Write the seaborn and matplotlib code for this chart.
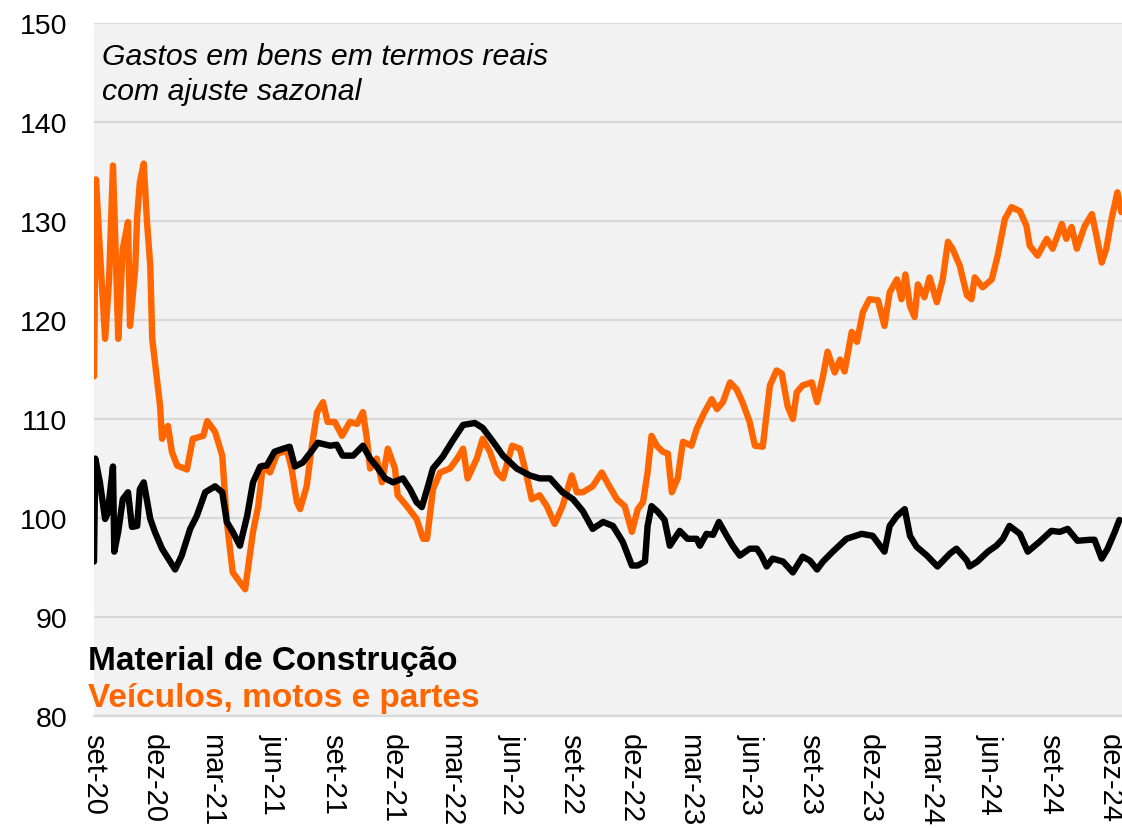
import matplotlib
matplotlib.use("Agg")
import matplotlib.pyplot as plt
import matplotlib.ticker as mticker
import pandas as pd
import seaborn as sns

# dias contados a partir de 01/09/2020 (leitura do gráfico)
inicio = pd.Timestamp("2020-09-01")

dias_veic = [0, 3, 9, 17, 23, 29, 34, 37, 44, 52, 55, 63, 66, 70, 76, 81, 86, 89, 92, 101,
             104, 113, 119, 127, 142, 151, 167, 173, 185, 196, 203, 212, 231, 243, 251, 258, 269, 280, 295, 302,
             310, 315, 325, 333, 341, 350, 357, 368, 379, 391, 402, 411, 417, 422, 432, 440, 449, 460, 464, 478,
             493, 503, 509, 518, 529, 544, 555, 564, 571, 585, 594, 605, 616, 625, 639, 651, 661, 669, 681, 692,
             704, 716, 730, 738, 747, 762, 776, 785, 799, 811, 822, 831, 839, 846, 852, 860, 869, 877, 883, 892,
             900, 913, 921, 933, 944, 952, 961, 972, 982, 991, 1002, 1010, 1022, 1033, 1043, 1051, 1060, 1068, 1074, 1083,
             1097, 1105, 1114, 1121, 1132, 1140, 1147, 1158, 1166, 1175, 1185, 1198, 1208, 1216, 1227, 1234, 1240, 1247, 1254, 1259,
             1269, 1277, 1288, 1297, 1305, 1312, 1323, 1334, 1341, 1346, 1358, 1372, 1381, 1392, 1402, 1415, 1425, 1430, 1442, 1456,
             1465, 1479, 1486, 1494, 1502, 1514, 1525, 1532, 1540, 1547, 1555, 1564, 1570]
veiculos = [114.3, 134.2, 127.0, 118.1, 124.0, 135.6, 125.0, 118.1, 127.2, 129.9, 119.4, 125.2, 130.5, 133.9, 135.8, 129.9, 125.5, 118.1, 116.4, 111.3,
            108.0, 109.3, 106.7, 105.3, 104.9, 108.0, 108.3, 109.8, 108.7, 106.3, 99.6, 94.5, 92.8, 98.6, 101.2, 105.3, 104.6, 106.5, 106.8, 105.0,
            101.6, 100.9, 103.2, 107.3, 110.7, 111.7, 109.7, 109.7, 108.3, 109.7, 109.5, 110.7, 108.0, 105.0, 106.0, 103.6, 107.0, 105.0, 102.3, 101.2,
            99.9, 97.9, 97.9, 102.9, 104.6, 105.0, 106.0, 107.0, 104.0, 106.0, 108.0, 106.7, 104.6, 104.0, 107.3, 107.0, 104.3, 101.9, 102.3, 101.2,
            99.4, 101.2, 104.3, 102.6, 102.6, 103.2, 104.6, 103.5, 101.9, 101.2, 98.6, 100.9, 101.6, 104.6, 108.3, 107.3, 106.7, 106.5, 102.6, 104.0,
            107.7, 107.3, 109.0, 110.7, 112.0, 111.0, 111.7, 113.7, 113.0, 111.7, 109.7, 107.3, 107.2, 113.4, 114.9, 114.6, 111.3, 110.0, 112.7, 113.4,
            113.7, 111.7, 114.3, 116.8, 114.7, 116.0, 114.8, 118.8, 117.8, 120.8, 122.1, 122.0, 119.4, 122.8, 124.1, 122.1, 124.6, 121.4, 120.3, 123.6,
            122.3, 124.3, 121.8, 124.1, 127.9, 127.2, 125.5, 122.5, 122.1, 124.3, 123.3, 124.1, 126.5, 130.2, 131.4, 131.0, 129.5, 127.5, 126.5, 128.2,
            127.2, 129.7, 128.2, 129.4, 127.2, 129.5, 130.7, 128.5, 125.8, 127.2, 130.2, 132.9, 130.9]

dias_mat = [0, 2, 9, 17, 21, 29, 31, 37, 44, 52, 58, 66, 70, 76, 86, 93, 104, 124, 134, 147,
            157, 170, 185, 196, 203, 212, 223, 234, 243, 254, 264, 276, 289, 299, 307, 319, 333, 342, 361, 371,
            380, 396, 411, 422, 432, 445, 457, 472, 483, 493, 501, 509, 518, 533, 548, 564, 582, 594, 610, 625,
            646, 666, 681, 697, 716, 732, 747, 762, 778, 793, 808, 822, 831, 842, 846, 852, 862, 872, 880, 895,
            907, 921, 926, 936, 946, 955, 967, 976, 987, 1002, 1013, 1020, 1028, 1037, 1053, 1068, 1083, 1094, 1105, 1114,
            1129, 1150, 1173, 1190, 1208, 1216, 1227, 1239, 1247, 1257, 1273, 1289, 1308, 1318, 1334, 1338, 1350, 1366, 1379, 1389,
            1399, 1415, 1427, 1445, 1463, 1476, 1488, 1503, 1522, 1529, 1540, 1549, 1560, 1567]
material = [95.6, 106.0, 103.6, 99.9, 100.5, 105.2, 96.6, 98.6, 101.9, 102.6, 99.1, 99.2, 102.9, 103.6, 99.9, 98.6, 96.9, 94.8, 96.2, 98.9,
            100.2, 102.6, 103.2, 102.6, 99.6, 98.6, 97.2, 100.2, 103.6, 105.2, 105.3, 106.7, 107.0, 107.2, 105.2, 105.6, 106.8, 107.6, 107.3, 107.4,
            106.3, 106.3, 107.3, 106.0, 105.2, 104.0, 103.6, 104.0, 102.9, 101.6, 101.1, 102.9, 105.0, 106.2, 107.8, 109.4, 109.6, 109.1, 107.7, 106.3,
            105.0, 104.3, 104.0, 104.0, 102.6, 101.9, 100.7, 98.9, 99.6, 99.2, 97.6, 95.2, 95.2, 95.6, 99.2, 101.2, 100.6, 99.8, 97.2, 98.7,
            97.9, 97.9, 97.2, 98.4, 98.3, 99.6, 98.2, 97.2, 96.2, 96.9, 96.9, 96.2, 95.1, 95.9, 95.6, 94.5, 96.1, 95.7, 94.8, 95.6,
            96.6, 97.9, 98.4, 98.2, 96.6, 99.2, 100.2, 100.9, 98.2, 97.1, 96.2, 95.1, 96.4, 96.9, 95.7, 95.1, 95.6, 96.6, 97.2, 97.9,
            99.2, 98.4, 96.6, 97.6, 98.7, 98.6, 98.9, 97.7, 97.8, 97.8, 95.9, 96.9, 98.6, 99.8]

meses_pt = {3: "mar", 6: "jun", 9: "set", 12: "dez"}
nome_mat = "Material de Construção"
nome_veic = "Veículos, motos e partes"
subtitulo = ["Gastos em bens em termos reais", "com ajuste sazonal"]

LARANJA = "#FF6600"
CINZA_FUNDO = "#F2F2F2"
CINZA_GRADE = "#D9D9D9"

df_veic = pd.DataFrame({"data": inicio + pd.to_timedelta(dias_veic, unit="D"), "valor": veiculos})
df_mat = pd.DataFrame({"data": inicio + pd.to_timedelta(dias_mat, unit="D"), "valor": material})

sns.set_style("white")
plt.rcParams["font.family"] = ["Liberation Sans", "DejaVu Sans"]
plt.rcParams["text.color"] = "black"

fig = plt.figure(figsize=(11.22, 8.29), dpi=100)
ax = fig.add_axes([94 / 1122, 112 / 829, 1028 / 1122, 693 / 829])
ax.set_facecolor(CINZA_FUNDO)

sns.lineplot(data=df_veic, x="data", y="valor", ax=ax, color=LARANJA, linewidth=4.6,
             solid_joinstyle="round", solid_capstyle="round")
sns.lineplot(data=df_mat, x="data", y="valor", ax=ax, color="black", linewidth=4.6,
             solid_joinstyle="round", solid_capstyle="round")

ax.set_ylim(80, 150)
ax.set_yticks(range(80, 151, 10))
ax.set_xlim(inicio, inicio + pd.Timedelta(days=1571))
ax.set_xticks(pd.date_range("2020-09-01", "2024-12-01", freq="3MS"))
ax.xaxis.set_major_formatter(mticker.FuncFormatter(
    lambda v, pos: "%s-%s" % (meses_pt[matplotlib.dates.num2date(v).month],
                              matplotlib.dates.num2date(v).strftime("%y"))))

ax.grid(axis="y", color=CINZA_GRADE, linewidth=1.6)
ax.set_axisbelow(True)
for s in ["left", "right", "top"]:
    ax.spines[s].set_visible(False)
ax.spines["bottom"].set_color(CINZA_GRADE)
ax.spines["bottom"].set_linewidth(1.6)

ax.tick_params(axis="y", length=0, pad=19, labelsize=20.5, labelcolor="black")
ax.tick_params(axis="x", length=7, width=1.4, color=CINZA_GRADE, pad=5,
               labelsize=21, labelcolor="black", labelrotation=-90)
for lab in ax.get_xticklabels():
    lab.set_verticalalignment("top")
    lab.set_horizontalalignment("center")
ax.set_xlabel("")
ax.set_ylabel("")

fig.text(102 / 1122, 1 - 65 / 829, subtitulo[0], fontsize=21.8, style="italic", va="baseline", color="black")
fig.text(102 / 1122, 1 - 100 / 829, subtitulo[1], fontsize=21.8, style="italic", va="baseline", color="black")
fig.text(88 / 1122, 1 - 670 / 829, nome_mat, fontsize=24, fontweight="bold", color="black", va="baseline")
fig.text(88 / 1122, 1 - 707 / 829, nome_veic, fontsize=24, fontweight="bold", color=LARANJA, va="baseline")

fig.savefig("out.png", dpi=100)
